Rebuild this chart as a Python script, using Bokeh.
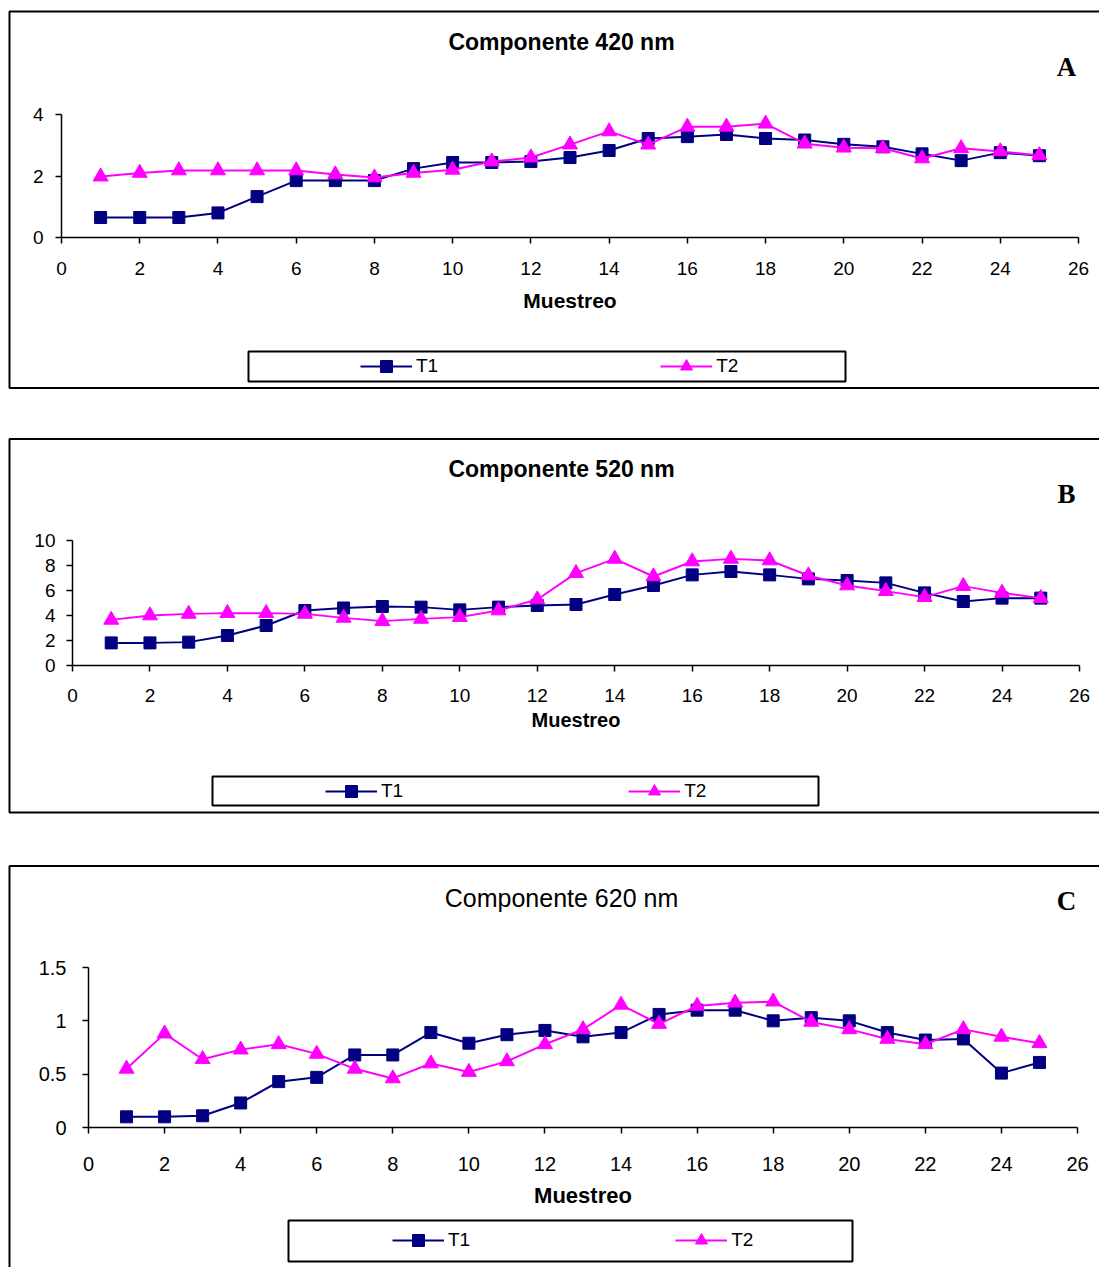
from bokeh.plotting import figure
from bokeh.models import (FixedTicker, Label, BoxAnnotation, Legend, LegendItem,
                          NumeralTickFormatter, ColumnDataSource, Range1d)
from bokeh.layouts import column
from bokeh.embed import file_html
from bokeh.resources import INLINE

muestreo = list(range(1, 26))
x_ticks = list(range(0, 27, 2))

t1_420 = [0.65, 0.65, 0.65, 0.80, 1.33, 1.85, 1.85, 1.85, 2.24, 2.44, 2.44, 2.47, 2.60,
          2.83, 3.22, 3.28, 3.35, 3.22, 3.17, 3.03, 2.95, 2.72, 2.50, 2.76, 2.66]
t2_420 = [1.98, 2.10, 2.18, 2.18, 2.18, 2.18, 2.05, 1.95, 2.10, 2.20, 2.47, 2.60, 3.02,
          3.45, 3.02, 3.60, 3.60, 3.70, 3.05, 2.92, 2.90, 2.57, 2.90, 2.80, 2.67]

t1_520 = [1.81, 1.81, 1.87, 2.40, 3.20, 4.40, 4.60, 4.72, 4.67, 4.45, 4.67, 4.80, 4.88,
          5.68, 6.40, 7.25, 7.52, 7.25, 6.93, 6.80, 6.61, 5.81, 5.12, 5.39, 5.39]
t2_520 = [3.65, 4.00, 4.13, 4.19, 4.19, 4.13, 3.81, 3.55, 3.73, 3.87, 4.40, 5.28, 7.39,
          8.53, 7.12, 8.32, 8.53, 8.40, 7.20, 6.40, 5.95, 5.47, 6.35, 5.81, 5.39]

t1_620 = [0.10, 0.10, 0.11, 0.23, 0.43, 0.47, 0.68, 0.68, 0.89, 0.79, 0.87, 0.91, 0.85,
          0.89, 1.06, 1.10, 1.10, 1.00, 1.03, 1.00, 0.89, 0.82, 0.83, 0.51, 0.61]
t2_620 = [0.55, 0.88, 0.64, 0.73, 0.78, 0.69, 0.55, 0.46, 0.60, 0.52, 0.62, 0.78, 0.92,
          1.15, 0.97, 1.14, 1.17, 1.18, 0.99, 0.92, 0.83, 0.78, 0.92, 0.85, 0.79]

y_ticks_420 = [0, 2, 4]
y_ticks_520 = [0, 2, 4, 6, 8, 10]
y_ticks_620 = [0, 0.5, 1, 1.5]

FONT = "Liberation Sans"
NAVY = "#000080"
MAGENTA = "#FF00FF"
W = 1099


def make_panel(t1, t2, y_max, y_ticks, top, height, axis_px, title, title_bold,
               title_size, title_pos, letter, letter_pos, border, legend_box,
               legend_glyph_start, legend_cy, legend_spacing, tick_size, label_size,
               x_standoff, label_standoff, y_standoff):
    # axis_px: page pixels of (x=0, x=26, y=0, y=y_max)
    x0p, x26p, y0p, ytp = axis_px
    bottom = top + height
    sx = (x26p - x0p) / 26.0
    sy = (y0p - ytp) / float(y_max)
    xr = Range1d(-x0p / sx, 26 + (W - x26p) / sx)
    yr = Range1d(-(bottom - y0p) / sy, y_max + (ytp - top) / sy)

    def scr_y(py):
        return bottom - py

    p = figure(width=W, height=height, x_range=xr, y_range=yr,
               output_backend="svg", toolbar_location=None,
               min_border=0, min_border_left=0, min_border_right=0,
               min_border_top=0, min_border_bottom=0)
    p.outline_line_color = None
    p.grid.visible = False
    p.background_fill_color = "white"
    p.border_fill_color = "white"

    src = ColumnDataSource(dict(x=muestreo, t1=t1, t2=t2))
    l1 = p.line("x", "t1", source=src, line_color=NAVY, line_width=2)
    s1 = p.scatter("x", "t1", source=src, marker="square", size=12,
                   fill_color=NAVY, line_color=NAVY)
    l2 = p.line("x", "t2", source=src, line_color=MAGENTA, line_width=2)
    s2 = p.scatter("x", "t2", source=src, marker="triangle", size=15,
                   fill_color=MAGENTA, line_color=MAGENTA)

    for ax in (p.xaxis[0], p.yaxis[0]):
        ax.fixed_location = 0
        ax.axis_line_color = "black"
        ax.axis_line_width = 1.5
        ax.major_tick_line_color = "black"
        ax.major_tick_line_width = 1.5
        ax.major_tick_out = 6
        ax.major_tick_in = 0
        ax.minor_tick_line_color = None
        ax.major_label_text_font = FONT
        ax.major_label_text_font_size = f"{tick_size}px"
        ax.major_label_text_color = "black"

    p.xaxis.bounds = (0, 26)
    p.yaxis.bounds = (0, y_max)
    p.xaxis.ticker = FixedTicker(ticks=x_ticks)
    p.yaxis.ticker = FixedTicker(ticks=y_ticks)
    p.yaxis.formatter = NumeralTickFormatter(format="0.[0]")
    p.xaxis.major_label_standoff = x_standoff
    p.yaxis.major_label_standoff = y_standoff
    p.xaxis.axis_label = "Muestreo"
    p.xaxis.axis_label_text_font = FONT
    p.xaxis.axis_label_text_font_style = "bold"
    p.xaxis.axis_label_text_font_size = f"{label_size}px"
    p.xaxis.axis_label_text_color = "black"
    p.xaxis.axis_label_standoff = label_standoff

    # panel frame (page coords: left, right, top, bottom)
    bl, br, bt, bb = border
    p.add_layout(BoxAnnotation(left=bl, right=br, top=scr_y(bt), bottom=scr_y(bb),
                               left_units="screen", right_units="screen",
                               top_units="screen", bottom_units="screen",
                               fill_alpha=0, line_color="black", line_alpha=1,
                               line_width=2))

    # title and panel letter
    p.add_layout(Label(x=title_pos[0], y=scr_y(title_pos[1]), x_units="screen",
                       y_units="screen", text=title, text_font=FONT,
                       text_font_style="bold" if title_bold else "normal",
                       text_font_size=f"{title_size}px", text_align="center",
                       text_baseline="middle", text_color="black"))
    p.add_layout(Label(x=letter_pos[0], y=scr_y(letter_pos[1]), x_units="screen",
                       y_units="screen", text=letter, text_font="Liberation Serif",
                       text_font_style="bold", text_font_size="27px",
                       text_align="center", text_baseline="middle", text_color="black"))

    # legend box
    ll, lr, lt, lb = legend_box
    p.add_layout(BoxAnnotation(left=ll, right=lr, top=scr_y(lt), bottom=scr_y(lb),
                               left_units="screen", right_units="screen",
                               top_units="screen", bottom_units="screen",
                               fill_alpha=0, line_color="black", line_alpha=1,
                               line_width=2))

    pad = 0
    gh = 30
    legend = Legend(items=[LegendItem(label="T1", renderers=[l1, s1]),
                           LegendItem(label="T2", renderers=[l2, s2])],
                    location=(legend_glyph_start - pad, scr_y(legend_cy + gh / 2 + pad)),
                    orientation="horizontal",
                    glyph_width=52, glyph_height=gh, label_standoff=4,
                    spacing=legend_spacing, padding=pad, margin=0,
                    border_line_alpha=0, background_fill_alpha=0,
                    label_text_font=FONT, label_text_font_size="19px",
                    label_text_color="black")
    p.add_layout(legend)
    return p


pA = make_panel(t1_420, t2_420, 4, y_ticks_420, 0, 413, (61, 1078, 237, 114),
                "Componente 420 nm", True, 23, (561, 41), "A", (1066, 66),
                (9, 1115, 11, 387.5), (248, 845, 351, 381), 360, 366, 222,
                19, 21, 18, 11, 12)

pB = make_panel(t1_520, t2_520, 10, y_ticks_520, 413, 425, (72, 1079, 665, 540),
                "Componente 520 nm", True, 23, (561, 468), "B", (1066, 493),
                (9, 1115, 438.5, 812), (212, 818, 776, 805), 325, 790.5, 225,
                19, 20, 17, 4, 11)

pC = make_panel(t1_620, t2_620, 1.5, y_ticks_620, 838, 429, (88, 1077, 1127, 967),
                "Componente 620 nm", False, 25, (561, 897), "C", (1066, 900),
                (9, 1115, 865.5, 1300), (288, 852, 1220, 1261), 392, 1240, 205,
                20, 22, 23, 9, 16)

layout = column(pA, pB, pC, spacing=0)

open("out.html", "w").write(file_html(layout, INLINE))
